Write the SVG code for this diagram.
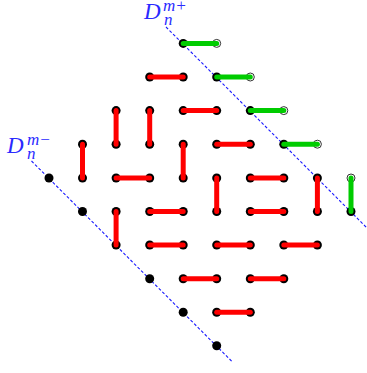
<svg xmlns="http://www.w3.org/2000/svg" width="367" height="373" viewBox="0 0 367 373">
<style>
.dot{fill:#000}
.open{fill:#fff;stroke:#333;stroke-width:1}
.r{stroke:#ff0000;stroke-width:5;stroke-linecap:round}
.g{stroke:#00cc00;stroke-width:5;stroke-linecap:round}
.diag{stroke:#1a1aff;stroke-width:1.1;stroke-dasharray:3 2;fill:none}
.lab{font-family:"Liberation Serif",serif;font-style:italic;fill:#2a2aff}
</style>
<rect width="367" height="373" fill="#fff"/>
<g id="diagonals">
<line class="diag" x1="166" y1="27" x2="367" y2="228"/>
<line class="diag" x1="31.5" y1="161" x2="233" y2="362.5"/>
</g>
<g id="labels">
<text class="lab" x="144" y="18.5" font-size="23">D<tspan font-size="17" x="163" dy="-8">m+</tspan><tspan font-size="17" x="164" dy="14">n</tspan></text>
<text class="lab" x="7" y="152.5" font-size="23">D<tspan font-size="17" x="27" dy="-8">m−</tspan><tspan font-size="17" x="27" dy="14">n</tspan></text>
</g>
<g id="dots">
<circle class="dot" cx="49" cy="178" r="4.5"/>
<circle class="dot" cx="82.5" cy="211.5" r="4.5"/>
<circle class="dot" cx="149.7" cy="278.7" r="4.5"/>
<circle class="dot" cx="183.2" cy="312.2" r="4.5"/>
<circle class="dot" cx="216.7" cy="345.8" r="4.5"/>
</g>
<g id="connectors">
<g id="d1"><circle class="dot" cx="183.2" cy="43.4" r="4.5"/><circle class="open" cx="216.7" cy="43.4" r="4"/><line class="g" x1="183.2" y1="43.4" x2="216.7" y2="43.4"/></g>
<g id="d2"><circle class="dot" cx="149.7" cy="77" r="4.5"/><circle class="dot" cx="183.2" cy="77" r="4.5"/><line class="r" x1="149.7" y1="77" x2="183.2" y2="77"/></g>
<g id="d3"><circle class="dot" cx="216.7" cy="77" r="4.5"/><circle class="open" cx="250.3" cy="77" r="4"/><line class="g" x1="216.7" y1="77" x2="250.3" y2="77"/></g>
<g id="d4"><circle class="dot" cx="116.1" cy="110.6" r="4.5"/><circle class="dot" cx="116.1" cy="144.2" r="4.5"/><line class="r" x1="116.1" y1="110.6" x2="116.1" y2="144.2"/></g>
<g id="d5"><circle class="dot" cx="149.7" cy="110.6" r="4.5"/><circle class="dot" cx="149.7" cy="144.2" r="4.5"/><line class="r" x1="149.7" y1="110.6" x2="149.7" y2="144.2"/></g>
<g id="d6"><circle class="dot" cx="183.2" cy="110.6" r="4.5"/><circle class="dot" cx="216.7" cy="110.6" r="4.5"/><line class="r" x1="183.2" y1="110.6" x2="216.7" y2="110.6"/></g>
<g id="d7"><circle class="dot" cx="250.3" cy="110.6" r="4.5"/><circle class="open" cx="283.8" cy="110.6" r="4"/><line class="g" x1="250.3" y1="110.6" x2="283.8" y2="110.6"/></g>
<g id="d8"><circle class="dot" cx="82.5" cy="144.2" r="4.5"/><circle class="dot" cx="82.5" cy="178" r="4.5"/><line class="r" x1="82.5" y1="144.2" x2="82.5" y2="178"/></g>
<g id="d9"><circle class="dot" cx="183.2" cy="144.2" r="4.5"/><circle class="dot" cx="183.2" cy="178" r="4.5"/><line class="r" x1="183.2" y1="144.2" x2="183.2" y2="178"/></g>
<g id="d10"><circle class="dot" cx="216.7" cy="144.2" r="4.5"/><circle class="dot" cx="250.3" cy="144.2" r="4.5"/><line class="r" x1="216.7" y1="144.2" x2="250.3" y2="144.2"/></g>
<g id="d11"><circle class="dot" cx="283.8" cy="144.2" r="4.5"/><circle class="open" cx="317.4" cy="144.2" r="4"/><line class="g" x1="283.8" y1="144.2" x2="317.4" y2="144.2"/></g>
<g id="d12"><circle class="dot" cx="116.1" cy="178" r="4.5"/><circle class="dot" cx="149.7" cy="178" r="4.5"/><line class="r" x1="116.1" y1="178" x2="149.7" y2="178"/></g>
<g id="d13"><circle class="dot" cx="216.7" cy="178" r="4.5"/><circle class="dot" cx="216.7" cy="211.5" r="4.5"/><line class="r" x1="216.7" y1="178" x2="216.7" y2="211.5"/></g>
<g id="d14"><circle class="dot" cx="250.3" cy="178" r="4.5"/><circle class="dot" cx="283.8" cy="178" r="4.5"/><line class="r" x1="250.3" y1="178" x2="283.8" y2="178"/></g>
<g id="d15"><circle class="dot" cx="317.4" cy="178" r="4.5"/><circle class="dot" cx="317.4" cy="211.5" r="4.5"/><line class="r" x1="317.4" y1="178" x2="317.4" y2="211.5"/></g>
<g id="d16"><circle class="open" cx="351" cy="178" r="4"/><circle class="dot" cx="351" cy="211.5" r="4.5"/><line class="g" x1="351" y1="178" x2="351" y2="211.5"/></g>
<g id="d17"><circle class="dot" cx="116.1" cy="211.5" r="4.5"/><circle class="dot" cx="116.1" cy="245" r="4.5"/><line class="r" x1="116.1" y1="211.5" x2="116.1" y2="245"/></g>
<g id="d18"><circle class="dot" cx="149.7" cy="211.5" r="4.5"/><circle class="dot" cx="183.2" cy="211.5" r="4.5"/><line class="r" x1="149.7" y1="211.5" x2="183.2" y2="211.5"/></g>
<g id="d19"><circle class="dot" cx="250.3" cy="211.5" r="4.5"/><circle class="dot" cx="283.8" cy="211.5" r="4.5"/><line class="r" x1="250.3" y1="211.5" x2="283.8" y2="211.5"/></g>
<g id="d20"><circle class="dot" cx="149.7" cy="245" r="4.5"/><circle class="dot" cx="183.2" cy="245" r="4.5"/><line class="r" x1="149.7" y1="245" x2="183.2" y2="245"/></g>
<g id="d21"><circle class="dot" cx="216.7" cy="245" r="4.5"/><circle class="dot" cx="250.3" cy="245" r="4.5"/><line class="r" x1="216.7" y1="245" x2="250.3" y2="245"/></g>
<g id="d22"><circle class="dot" cx="283.8" cy="245" r="4.5"/><circle class="dot" cx="317.4" cy="245" r="4.5"/><line class="r" x1="283.8" y1="245" x2="317.4" y2="245"/></g>
<g id="d23"><circle class="dot" cx="183.2" cy="278.7" r="4.5"/><circle class="dot" cx="216.7" cy="278.7" r="4.5"/><line class="r" x1="183.2" y1="278.7" x2="216.7" y2="278.7"/></g>
<g id="d24"><circle class="dot" cx="250.3" cy="278.7" r="4.5"/><circle class="dot" cx="283.8" cy="278.7" r="4.5"/><line class="r" x1="250.3" y1="278.7" x2="283.8" y2="278.7"/></g>
<g id="d25"><circle class="dot" cx="216.7" cy="312.2" r="4.5"/><circle class="dot" cx="250.3" cy="312.2" r="4.5"/><line class="r" x1="216.7" y1="312.2" x2="250.3" y2="312.2"/></g>
</g>
</svg>
